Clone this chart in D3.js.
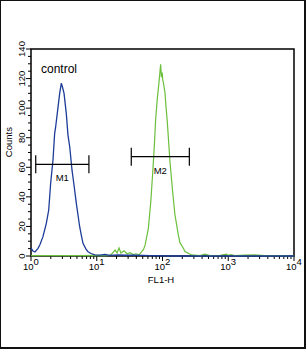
<!DOCTYPE html>
<html><head><meta charset="utf-8">
<script src="https://cdn.jsdelivr.net/npm/d3@7"></script>
<style>html,body{margin:0;padding:0;background:#fff;}svg{display:block;}</style>
</head><body>
<svg id="c" width="306" height="349"></svg>
<script>
// ---- data ----
const blueFL = [1.00,1.07,1.15,1.28,1.37,1.52,1.71,1.86,1.99,2.16,2.29,2.36,2.51,2.73,2.89,3.01,3.18,3.44,3.65,3.88,4.20,4.51,4.89,5.50,5.86,6.18,6.86,7.37,8.19,9.30,11.2,13.3,15.9,21.0,26.9,38.2,64.6,130,10000];
const blueCounts = [5.4,3.4,2.7,5.2,7.8,13.1,22.1,31.1,49.2,64.9,83.0,86.6,96.5,110.0,116.8,114.3,110.0,96.5,81.8,73.9,58.2,48.0,35.6,19.8,13.5,8.6,4.7,2.9,1.7,0.7,0.6,1.0,0.4,0.7,0.5,0.6,0.3,0,0];
const greenFL = [1.0,5.0,10.0,14.0,15.9,17.0,19.0,20.4,21.8,23.3,25.9,28.9,32.2,35.5,39.6,44.0,48.3,51.5,54.4,60.9,66.3,71.1,75.2,78.8,83.3,88.3,93.7,96.3,98.9,101,103,108.9,113,118.3,129.9,142.5,154.6,173.8,184,206.9,219.5,277,372,442,527,748,942,1000,1100,1260,1790,2540,3600,6100,10000];
const greenCounts = [0.3,0.2,0.4,0.3,0.5,1.5,4.0,2.0,5.5,2.0,3.5,1.5,2.2,1.0,1.5,0.8,3.0,4.5,7.5,18.5,36.5,56.8,74.8,92.8,106.3,117.3,129.6,121,124,119,117.5,110.7,101,90.7,63.8,43.6,27.9,14.4,9.0,5.4,3.0,0.7,0.3,1.2,0.3,0.5,1.2,0.4,1.0,0.3,0.6,0.8,0.2,0.2,0];
const markerLabels = ["M1","M2"];
const markerStart = [1.18, 33.5];
const markerEnd = [7.6, 256];
const markerLevel = [62.0, 67.2];
const yTicks = [0,20,40,60,80,100,120,140];
const xDecades = [0,1,2,3,4];
const xTitle = "FL1-H";
const yTitle = "Counts";
const annotation = "control";

// ---- layout ----
const svg = d3.select("#c");
const L = 31, R = 294, T = 49, B = 256;
const x = d3.scaleLog().domain([1,10000]).range([L,R]);
const y = d3.scaleLinear().domain([0,140]).range([B,T]);
const font = "Liberation Sans, Arial, sans-serif";

// outer border
svg.append("rect").attr("x",0.5).attr("y",0.5).attr("width",304).attr("height",347)
  .attr("fill","none").attr("stroke","#111").attr("stroke-width",1);
svg.append("line").attr("x1",305).attr("x2",305).attr("y1",0).attr("y2",349).attr("stroke","#111").attr("stroke-width",2);
svg.append("line").attr("x1",0).attr("x2",306).attr("y1",348).attr("y2",348).attr("stroke","#111").attr("stroke-width",2);

// plot frame
svg.append("rect").attr("x",L).attr("y",T).attr("width",R-L).attr("height",B-T)
  .attr("fill","none").attr("stroke","#000").attr("stroke-width",1.5);

// y axis ticks
const yMinor = d3.range(0,141,5);
svg.append("g").selectAll("line").data(yMinor).join("line")
  .attr("x1",L).attr("x2",d=> d%20===0 ? L-5 : L-3)
  .attr("y1",d=>y(d)).attr("y2",d=>y(d))
  .attr("stroke","#000").attr("stroke-width",1);
svg.append("g").selectAll("text").data(yTicks).join("text")
  .attr("transform",d=>`translate(25,${y(d)}) rotate(-90)`)
  .attr("text-anchor","middle")
  .attr("font-family",font).attr("font-size",9.5).attr("fill","#000")
  .text(d=>d);
svg.append("text").attr("transform",`translate(12,${y(77)}) rotate(-90)`)
  .attr("text-anchor","middle").attr("font-family",font).attr("font-size",9.5).text(yTitle);

// x axis ticks
const xMinor = [];
for (let e=0;e<4;e++) for (let k=2;k<=9;k++) xMinor.push(k*Math.pow(10,e));
svg.append("g").selectAll("line").data(xMinor).join("line")
  .attr("x1",d=>x(d)).attr("x2",d=>x(d)).attr("y1",B).attr("y2",B+3)
  .attr("stroke","#000").attr("stroke-width",1);
svg.append("g").selectAll("line").data(xDecades).join("line")
  .attr("x1",d=>x(Math.pow(10,d))).attr("x2",d=>x(Math.pow(10,d))).attr("y1",B).attr("y2",B+5)
  .attr("stroke","#000").attr("stroke-width",1);
const xl = svg.append("g").selectAll("text").data(xDecades).join("text")
  .attr("x",d=>x(Math.pow(10,d))-8).attr("y",270)
  .attr("font-family",font).attr("font-size",9.5).attr("fill","#000");
xl.append("tspan").text("10");
xl.append("tspan").attr("dy",-5).text(d=>d);
svg.append("text").attr("x",161).attr("y",283).attr("text-anchor","middle")
  .attr("font-family",font).attr("font-size",9.5).text(xTitle);

// curves
const line = d3.line().x(d=>x(d[0])).y(d=>y(d[1]));
svg.append("path").datum(greenFL.map((v,i)=>[v,greenCounts[i]]))
  .attr("d",line).attr("fill","none").attr("stroke","#6cbf3c").attr("stroke-width",1.2);
svg.append("path").datum(blueFL.map((v,i)=>[v,blueCounts[i]]))
  .attr("d",line).attr("fill","none").attr("stroke","#1c3c98").attr("stroke-width",1.3);

// markers
markerLabels.forEach((m,i)=>{
  const g = svg.append("g").attr("stroke","#000").attr("stroke-width",1.2);
  const x0 = x(markerStart[i]), x1 = x(markerEnd[i]), yy = y(markerLevel[i]);
  g.append("line").attr("x1",x0).attr("x2",x1).attr("y1",yy).attr("y2",yy);
  g.append("line").attr("x1",x0).attr("x2",x0).attr("y1",yy-9).attr("y2",yy+9);
  g.append("line").attr("x1",x1).attr("x2",x1).attr("y1",yy-9).attr("y2",yy+9);
  svg.append("text").attr("x",(x0+x1)/2).attr("y",yy+17).attr("text-anchor","middle")
    .attr("font-family",font).attr("font-size",9.5).text(m);
});

svg.append("text").attr("x",41).attr("y",73).attr("font-family",font).attr("font-size",12).text(annotation);
</script>
</body></html>
